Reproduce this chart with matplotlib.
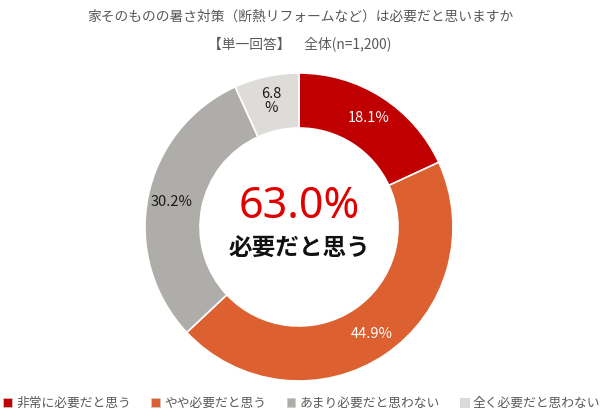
import matplotlib
matplotlib.use("Agg")
import matplotlib.pyplot as plt
from matplotlib.patches import Patch

plt.rcParams['font.family'] = ['Noto Sans CJK JP', 'DejaVu Sans']

title_lines = ["家そのものの暑さ対策（断熱リフォームなど）は必要だと思いますか",
               "【単一回答】　全体(n=1,200)"]
categories = ["非常に必要だと思う", "やや必要だと思う", "あまり必要だと思わない", "全く必要だと思わない"]
values = [18.1, 44.9, 30.2, 6.8]
value_labels = ["18.1%", "44.9%", "30.2%", "6.8\n%"]
colors = ["#C00000", "#DC6030", "#AFADA9", "#DEDCD8"]
label_colors = ["white", "white", "#1a1a1a", "#1a1a1a"]
center_value = "63.0%"
center_text = "必要だと思う"

W, H = 600, 417
fig = plt.figure(figsize=(W / 100, H / 100), dpi=100)
ax = fig.add_axes([0, 0, 1, 1])
ax.set_xlim(0, W)
ax.set_ylim(0, H)
ax.set_aspect('equal')
ax.axis('off')

cx, cy = 299, H - 227
R, r = 154, 99

wedges, texts = ax.pie(values, colors=colors, startangle=90, counterclock=False,
                       center=(cx, cy), radius=R,
                       wedgeprops=dict(width=R - r, edgecolor='white', linewidth=1.2),
                       labels=value_labels, labeldistance=0.84,
                       textprops=dict(fontsize=10.5, ha='center', va='center'),
                       frame=True)
for t, c in zip(texts, label_colors):
    t.set_color(c)
    t.set_ha('center')
    t.set_linespacing(1.0)
ax.set_xlim(0, W)
ax.set_ylim(0, H)
ax.axis('off')

ax.text(cx, H - 207, center_value, color="#E00000", fontsize=31,
        ha='center', va='center', family=['Noto Sans', 'DejaVu Sans'])
ax.text(cx, H - 249, center_text, color="#111111", fontsize=17, fontweight='bold',
        ha='center', va='center')

fig.text(0.5, 1 - 17 / H, title_lines[0], ha='center', va='center', fontsize=9.9, color="#595959")
fig.text(0.5, 1 - 44 / H, title_lines[1], ha='center', va='center', fontsize=9.9, color="#595959")

handles = [Patch(facecolor=c, edgecolor='#cccccc', linewidth=0.5) for c in colors]
leg = fig.legend(handles, categories, loc='center', bbox_to_anchor=(0.503, 1 - 403 / H),
                 ncol=4, frameon=False, fontsize=9.2, handlelength=0.7, handleheight=0.7,
                 handletextpad=0.3, columnspacing=1.6, borderaxespad=0, borderpad=0)
for t in leg.get_texts():
    t.set_color("#595959")

fig.savefig("out.png", dpi=100)
